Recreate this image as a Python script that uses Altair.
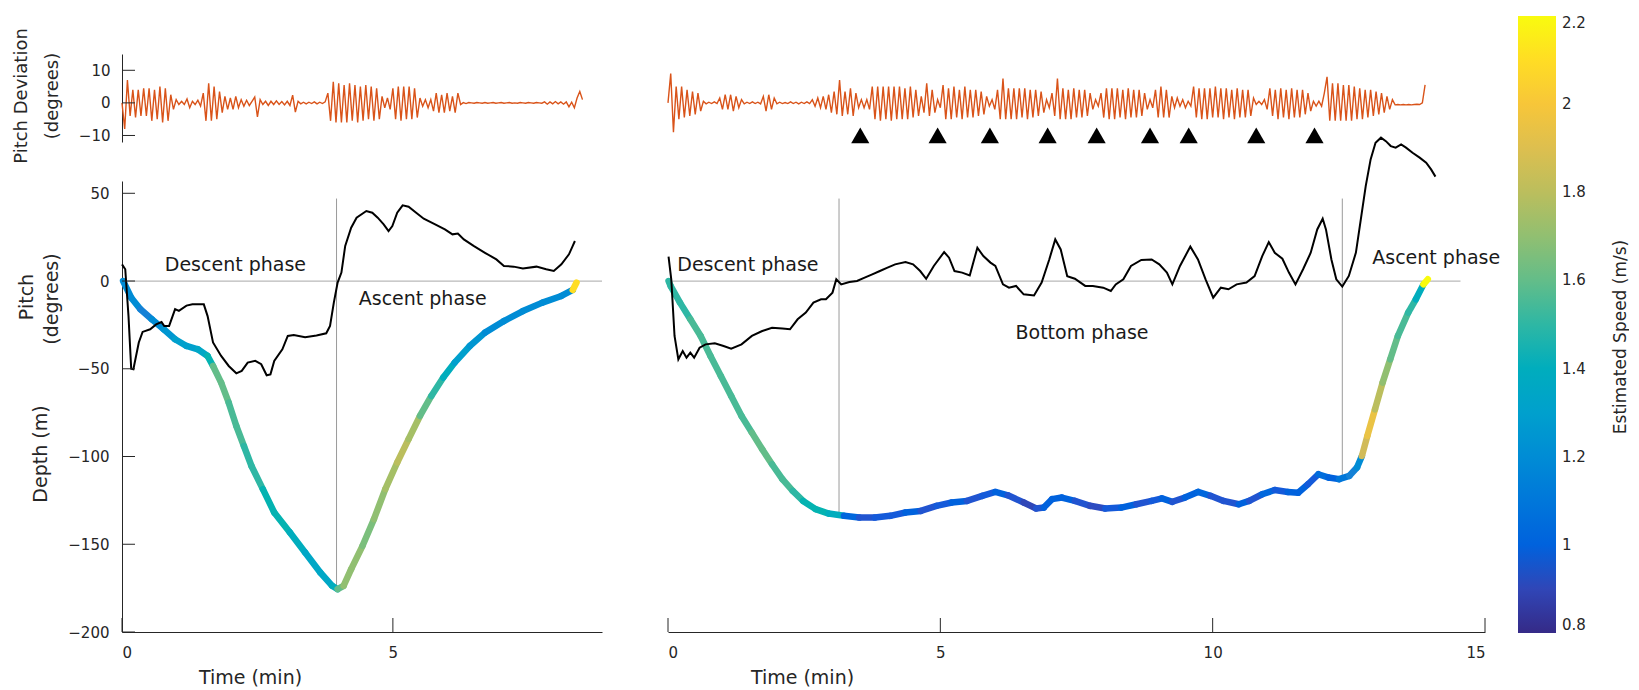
import altair as alt
import numpy as np
import pandas as pd

FONT = "DejaVu Sans"
AX = "#262626"
ORANGE = "#d95319"
PARULA = ["#352a87", "#0f5cdd", "#1481d6", "#06a4ca", "#2eb7a4",
          "#87bf77", "#d1bb59", "#fec832", "#f9fb0e"]

# ---------------- data ----------------
# Left dive: pitch (deg) vs time (min)
LEFT_PITCH_T = [0.00, 0.06, 0.12, 0.17, 0.21, 0.31, 0.38, 0.52, 0.63, 0.73, 0.78, 0.87, 0.98, 1.05,
                1.19, 1.30, 1.51, 1.58, 1.68, 1.83, 1.97, 2.11, 2.21, 2.32, 2.46, 2.57, 2.67, 2.74,
                2.81, 2.96, 3.06, 3.17, 3.38, 3.59, 3.77, 3.84, 3.91, 3.98, 4.05, 4.12, 4.23, 4.33,
                4.51, 4.62, 4.72, 4.83, 4.92, 4.99, 5.08, 5.18, 5.29, 5.43, 5.57, 5.78, 5.96, 6.10,
                6.20, 6.31, 6.49, 6.70, 6.91, 7.05, 7.23, 7.40, 7.65, 7.83, 7.97, 8.11, 8.25, 8.32, 8.36]
LEFT_PITCH_V = [9.5, 6.7, -20, -50, -50.3, -35, -29, -27.5, -24.7, -23.4, -25.6, -25.6, -16, -17,
                -14, -13.3, -13.3, -20, -35, -42.7, -48.4, -52.6, -51.2, -46.5, -45.5, -47.4, -53.7, -53.2,
                -45.5, -38.9, -31.3, -30.7, -32, -31, -29.8, -25.6, -12.3, -0.9, 4.8, 20, 30.4, 36.1,
                39.9, 38.9, 36.1, 32.3, 28.5, 31.3, 38.9, 43.1, 42.3, 38.9, 35.5, 32.3, 29.4, 26.6,
                27.1, 23.7, 20, 16.1, 12.3, 8.6, 8.2, 7.2, 8.2, 6.7, 5.7, 9.5, 15.2, 20, 22.8]

# Left dive: depth (m) and estimated speed (m/s)
LEFT_DEPTH_T = [0.02, 0.17, 0.34, 0.55, 0.77, 0.98, 1.19, 1.40, 1.58, 1.68, 1.83, 1.97, 2.11, 2.25,
                2.39, 2.60, 2.81, 3.10, 3.38, 3.66, 3.88, 3.98, 4.09, 4.23, 4.44, 4.65, 4.86, 5.08,
                5.29, 5.50, 5.71, 5.93, 6.14, 6.42, 6.70, 7.05, 7.40, 7.76, 8.11, 8.32, 8.39]
LEFT_DEPTH_V = [0, -9.5, -16.1, -21.8, -27.5, -33.2, -37, -38.9, -42.7, -48.4, -57.9, -69.3, -82.6, -94,
                -105.4, -118.6, -131.9, -143.3, -154.7, -166.1, -173.7, -175.6, -173.7, -164.2, -150.9,
                -135.7, -118.6, -103.4, -90.1, -76.9, -65.5, -55, -46.5, -37, -29.4, -22.8, -17.1,
                -12.3, -8.5, -5.1, -0.9]
LEFT_SPEED = [1.2, 1.2, 1.15, 1.2, 1.25, 1.3, 1.3, 1.35, 1.45, 1.6, 1.6, 1.55, 1.55, 1.5,
              1.5, 1.45, 1.45, 1.4, 1.35, 1.35, 1.4, 1.6, 1.7, 1.7, 1.65, 1.7, 1.75, 1.8,
              1.75, 1.6, 1.5, 1.4, 1.3, 1.25, 1.2, 1.2, 1.2, 1.2, 1.2, 2.1, 2.2]

# Right dive: pitch (deg)
RIGHT_PITCH_T = [0.01, 0.06, 0.12, 0.19, 0.27, 0.34, 0.41, 0.48, 0.58, 0.69,
                 0.86, 1.02, 1.16, 1.35, 1.54, 1.73, 1.91, 2.10, 2.24, 2.38,
                 2.53, 2.67, 2.81, 2.90, 3.02, 3.09, 3.18, 3.33, 3.47, 3.61,
                 3.75, 3.89, 4.03, 4.17, 4.36, 4.50, 4.63, 4.74, 4.88, 5.07,
                 5.16, 5.26, 5.40, 5.54, 5.68, 5.79, 5.92, 6.01, 6.15, 6.26,
                 6.39, 6.53, 6.72, 6.86, 7.00, 7.11, 7.21, 7.33, 7.47, 7.66,
                 7.80, 7.99, 8.13, 8.22, 8.36, 8.50, 8.69, 8.88, 9.02, 9.16,
                 9.26, 9.40, 9.59, 9.73, 9.87, 10.01, 10.15, 10.29, 10.44, 10.62,
                 10.77, 10.91, 11.03, 11.14, 11.28, 11.40, 11.52, 11.66, 11.80, 11.92,
                 12.02, 12.08, 12.18, 12.27, 12.38, 12.50, 12.63, 12.72, 12.81, 12.90,
                 12.99, 13.09, 13.18, 13.27, 13.36, 13.46, 13.55, 13.67, 13.80, 13.92,
                 14.01, 14.09]
RIGHT_PITCH_V = [13.9, 1, -31.3, -44.6, -39.9, -43.7, -40.8, -43.7, -38, -36.1,
                 -35.5, -37, -38.5, -36.1, -31.3, -28.5, -26.6, -27.1, -27.5, -21.8,
                 -18, -12.3, -10.4, -10.4, -6.6, 1, -1.9, -0.6, 0, 1.9,
                 3.8, 5.7, 7.6, 9.5, 10.8, 9.5, 5.7, 1.3, 8.6, 16.5,
                 13.3, 5.7, 4.8, 3.2, 19, 14.2, 10.5, 8.6, -1.9, -3.8,
                 -2.8, -7.6, -8.2, -0.9, 12.3, 23.7, 18, 2.8, 1.3, -2.8,
                 -2.8, -3.8, -5.7, -1.9, 1, 8.6, 12, 12.3, 9.5, 4.8,
                 -1.9, 8.6, 19.6, 12.3, 1, -9.5, -3.8, -4.7, -1.9, -0.9,
                 2.8, 14.2, 22.2, 16.1, 12.7, 4.8, -1.9, 6.7, 16.1, 29.4,
                 35.5, 29.4, 12.3, 1, -3.2, 2.9, 16.2, 35.1, 54.1, 69.3,
                 78.8, 81.7, 79.7, 76.9, 76, 77.8, 76, 73.1, 70.3, 67.4,
                 63.6, 59.5]

# Right dive: depth (m) and estimated speed (m/s)
RIGHT_DEPTH_T = [0.01, 0.05, 0.22, 0.41, 0.60, 0.78, 0.97, 1.16, 1.35, 1.54, 1.73, 1.91, 2.10, 2.29,
                 2.48, 2.71, 2.95, 3.23, 3.51, 3.80, 4.08, 4.36, 4.64, 4.93, 5.21, 5.49, 5.77,
                 6.01, 6.24, 6.53, 6.76, 6.90, 7.05, 7.23, 7.47, 7.75, 8.03, 8.32, 8.60, 8.88,
                 9.07, 9.26, 9.49, 9.73, 9.96, 10.20, 10.48, 10.67, 10.91, 11.14, 11.38, 11.57,
                 11.75, 11.94, 12.13, 12.32, 12.51, 12.65, 12.74, 12.84, 12.98, 13.12, 13.26,
                 13.40, 13.59, 13.73, 13.87, 13.95]
RIGHT_DEPTH_V = [0, -2.9, -12.3, -21.8, -31.3, -42.7, -54.1, -65.5, -76.9, -86.4, -95.9, -104.4, -112.9,
                 -119.6, -125.3, -130, -132.5, -133.8, -134.8, -134.8, -133.8, -131.9, -131, -128.1,
                 -126.2, -125.3, -122.4, -120.2, -122.1, -126.2, -129.6, -129.1, -124.3, -123.4,
                 -125.3, -128.1, -129.6, -129.1, -127.2, -125.3, -123.9, -125.8, -123.4, -120.2,
                 -122.4, -125.3, -127.2, -125.3, -121.5, -119.1, -120.2, -120.6, -115.8, -110.1,
                 -112, -112.9, -111, -106.3, -99.7, -88.3, -73.1, -57.9, -44.6, -31.3, -18, -10.4,
                 -1.9, 1.0]
RIGHT_SPEED = [1.5, 1.5, 1.5, 1.55, 1.55, 1.55, 1.55, 1.55, 1.55, 1.6, 1.6, 1.55, 1.55, 1.5,
               1.45, 1.45, 1.4, 1.02, 0.95, 0.97, 0.97, 1.0, 0.95, 0.97, 1.0, 0.95, 0.97,
               1.0, 0.95, 0.9, 0.95, 1.0, 1.0, 1.0, 0.95, 0.92, 0.97, 1.0, 0.95, 0.97,
               1.0, 0.95, 1.0, 1.02, 0.95, 0.95, 1.0, 0.95, 1.02, 0.97, 1.0, 1.0,
               0.97, 1.05, 1.0, 1.1, 1.15, 1.2, 1.85, 1.95, 1.8, 1.7, 1.6,
               1.55, 1.5, 1.4, 2.2, 2.2]

# Pitch deviation (deg), sampled every DEV_DT minutes
DEV_DT = 0.05
DEV_L = [
    0, -8, 7, -4, 4, -4.5, 4, -4, 4.5, -4,
    4.5, -5.5, 4, -5, 5, -6, 4.5, -5.5, 2.5, -2,
    1, -0.5, 0.5, -0.5, 1.2, -1.5, 0.5, -0.5, 0.8, -1,
    3, -5.5, 6, -5.5, 5, -5, 3.5, -3, 2, -2,
    1.5, -2, 2, -1.5, 1, -1, 0.8, -0.8, 0.5, 1.8,
    -4.3, 1, -0.5, 0.5, -0.8, 0.5, -0.5, 0.6, -0.5, 0.4,
    -0.6, 0.5, -0.8, 2.4, -2.8, 0.5, -0.3, 0.2, -0.3, 0.2,
    -0.2, 0.3, -0.3, 0.2, -0.2, 0.3, 3, -5.5, 6.5, -6,
    6, -6, 5.5, -6, 6, -5.5, 5.5, -6, 5, -5.5,
    5.5, -5, 5, -5.5, 4.5, -5, 2, -1.5, 1.5, -2,
    4.5, -5, 5, -5.5, 5, -5, 5, -5, 4.5, -4.5,
    1.5, -1, 1, -1.5, 1, -2.5, 3, -3, 2.5, -3,
    3, -2.5, 2, -3, 3, -0.5, 0.1, -0.2, 0.1, 0,
    -0.1, 0.1, 0, -0.1, 0.1, -0.1, 0, 0.1, -0.1, 0,
    0.1, -0.1, 0, 0.1, -0.1, 0, -0.1, 0.1, 0, -0.1,
    0.1, 0, -0.1, 0.1, 0, -0.1, 0.3, -0.4, 0.3, -0.3,
    0.4, -0.3, 0.3, -0.4, 0.3, -1.2, 0.2, -1.5, 1.5, 3.5,
    1]
DEV_R = [
    0, 9, -9, 5, -5, 5, -4.5, 4, -4, 3.5,
    -3.5, 3, -2.5, 0.5, -0.3, 0.2, -0.2, 0.3, -0.2, 1.5,
    -2, 2.5, -2, 2.5, -2.5, 2, -1.5, 1, -0.3, 0.2,
    -0.2, 0.3, -0.2, 0.2, -0.3, 2, -2.5, 2.5, -2, 1.5,
    -0.3, 0.2, -0.2, 0.1, -0.2, 0.3, -0.2, 0.2, -0.3, 0.2,
    -0.2, 0.3, -0.2, 1, -1, 1.5, -1.5, 2, -2, 2.5,
    -3, 3.5, -3.5, 7, -4, 3.5, -3.5, 4.5, -4, 3,
    -1.5, 1, -1.5, 1, -2, 5, -5, 5, -5.5, 5,
    -5, 5, -5.5, 5, -5, 5, -5, 4.5, -5, 5,
    -4.5, 4, -4, 2, -3, 6, -4, 4, -3, 1,
    -1.5, 5.5, -5, 4.5, -5, 5, -4.5, 4, -5, 5,
    -4.5, 4, -4.5, 4, -4, 3.5, -3.5, 2, -1, 1,
    -2, 4, -5, 7.5, -5, 4.5, -5, 4.5, -5, 4.5,
    -4.5, 4.5, -5, 4, -4.5, 4, -4, 3.5, -3, 1,
    -1.5, 3, -4, 7.5, -5, 4.5, -5, 4, -5, 4.5,
    -4.5, 4, -4.5, 4, -4, 3, -2, 1, -1, 3,
    -4.5, 4.5, -5, 4.5, -5, 4.5, -4.5, 4, -5, 4.5,
    -4.5, 4, -4.5, 4, -4, 3, -2, 1, -1.5, 4,
    -4.5, 5, -4.5, 4, -4.5, 2, -1.5, 1.5, -1, 1,
    -1.5, 0.5, -1, 5, -4.5, 4.5, -5, 4.5, -5, 4.5,
    -4.5, 5, -4.5, 4.5, -5, 4.5, -4.5, 4, -5, 4.5,
    -4.5, 4, -4.5, 4, -4, 1.5, -0.5, 0.5, -0.5, 1,
    -2, 4.5, -4, 4, -5, 4.5, -4.5, 4, -5, 4.5,
    -4.5, 4, -4.5, 4, -3.5, 3, -2.5, 0.5, -1, 0.5,
    -1, 3, 8, -5.5, 6, -5.5, 6, -5.5, 5.5, -5.5,
    5.5, -5.5, 5, -5, 4.5, -5, 4, -4.5, 4, -4,
    3.5, -3.5, 3, -3, 2, -2, 1, -0.6, -0.5, -0.6,
    -0.5, -0.6, -0.5, -0.6, -0.5, -0.4, -0.5, 0, 5.5]

# Glide markers (min) and their level in the deviation panel
GLIDE_T = [3.53, 4.95, 5.91, 6.97, 7.87, 8.85, 9.56, 10.80, 11.87]
GLIDE_LEVEL = -10

# Phase boundaries: time, top of marker line, bottom (depth at boundary)
LEFT_PHASE_T = [3.96]
LEFT_PHASE_BOTTOM = [-175.6]
RIGHT_PHASE_T = [3.14, 12.38]
RIGHT_PHASE_BOTTOM = [-133.5, -111.5]
PHASE_TOP = 47

# Phase labels
LEFT_LABELS = ["Descent phase", "Ascent phase"]
LEFT_LABEL_T = [0.79, 4.37]
LEFT_LABEL_V = [9, -10.4]
RIGHT_LABELS = ["Descent phase", "Bottom phase", "Ascent phase"]
RIGHT_LABEL_T = [0.17, 6.38, 12.93]
RIGHT_LABEL_V = [9.1, -29.4, 13]

# Axis ticks / domains
Y_TICKS = [-200, -150, -100, -50, 0, 50]
DEV_TICKS = [-10, 0, 10]
X_TICKS_L = [0, 5]
X_TICKS_R = [0, 5, 10, 15]
SPEED_TICKS = [0.8, 1.0, 1.2, 1.4, 1.6, 1.8, 2.0, 2.2]
SPEED_TITLE = "Estimated Speed (m/s)"
X_DOM_L = [0, 8.86]
X_DOM_R = [0, 15]
Y_DOM = [-200, 57]
DEV_DOM = [-12, 15]
ZERO_END_L = 8.86
ZERO_END_R = 14.55

# ---------------- layout ----------------
W_L, W_R = 480, 817
H_TOP, H_MAIN = 88, 451

COLOR = alt.Color(
    "speed:Q",
    scale=alt.Scale(domain=[0.8, 2.2], range=PARULA),
    legend=alt.Legend(
        orient="none", legendX=1396, legendY=-38, direction="vertical",
        gradientLength=617, gradientThickness=38, gradientStrokeWidth=0,
        values=SPEED_TICKS, format="~g", labelFont=FONT, labelFontSize=15,
        labelColor=AX, labelOffset=6, labelOverlap=False, title=None, padding=0,
    ),
)


def text_layer(label, px, py, size=18, angle=270):
    return alt.Chart(pd.DataFrame({"label": [label]})).mark_text(
        angle=angle, align="center", baseline="middle", font=FONT, fontSize=size, color=AX
    ).encode(text="label:N", x=alt.value(px), y=alt.value(py))


def top_panel(dev, xdom, width, show_axis, glides=None):
    df = pd.DataFrame({"t": np.arange(len(dev)) * DEV_DT, "d": dev})
    xenc = alt.X("t:Q", scale=alt.Scale(domain=xdom, nice=False, zero=False), axis=None)
    yaxis = alt.Axis(values=DEV_TICKS, labelPadding=12, title=None) if show_axis else None
    yenc = alt.Y("d:Q", scale=alt.Scale(domain=DEV_DOM, nice=False, zero=False), axis=yaxis)
    layers = [alt.Chart(df).mark_line(color=ORANGE, strokeWidth=1.4, clip=False).encode(x=xenc, y=yenc)]
    if show_axis:
        layers.append(
            alt.Chart(pd.DataFrame({"d": DEV_TICKS})).mark_rule(color=AX, strokeWidth=1).encode(
                y=yenc, x=alt.value(0), x2=alt.value(13))
        )
        layers.append(text_layer("Pitch Deviation", -100, H_TOP / 2 - 2))
        layers.append(text_layer("(degrees)", -69, H_TOP / 2 - 2))
    if glides is not None:
        gdf = pd.DataFrame({"t": glides, "d": [GLIDE_LEVEL] * len(glides)})
        layers.append(
            alt.Chart(gdf).mark_point(shape="triangle-up", filled=True, color="black",
                                      size=330, opacity=1).encode(x=xenc, y=yenc)
        )
    return alt.layer(*layers).properties(width=width, height=H_TOP)


def main_panel(xdom, width, x_ticks, title_x, pitch_t, pitch_v, depth_t, depth_v, speed,
               phase_t, phase_bottom, zero_end, labels, label_t, label_v, show_y):
    xenc = alt.X("t:Q", scale=alt.Scale(domain=xdom, nice=False, zero=False),
                 axis=alt.Axis(values=x_ticks, title="Time (min)", titleX=title_x, titleY=45,
                               titleBaseline="middle", titleAlign="center", labelPadding=13,
                               format="d"))
    yaxis = alt.Axis(values=Y_TICKS, labelPadding=13, title=None) if show_y else None
    yenc = alt.Y("v:Q", scale=alt.Scale(domain=Y_DOM, nice=False, zero=False), axis=yaxis)

    zero_df = pd.DataFrame({"t": [0.0], "t2": [zero_end], "v": [0.0]})
    zero = alt.Chart(zero_df).mark_rule(color="#b9b9b9", strokeWidth=1.2).encode(
        x=xenc, x2="t2:Q", y=yenc)

    ph_df = pd.DataFrame({"t": phase_t, "v": [PHASE_TOP] * len(phase_t), "v2": phase_bottom})
    phase = alt.Chart(ph_df).mark_rule(color="#9a9a9a", strokeWidth=1).encode(
        x=xenc, y=yenc, y2="v2:Q")

    seg = pd.DataFrame({"t": depth_t[:-1], "v": depth_v[:-1],
                        "t2": depth_t[1:], "v2": depth_v[1:], "speed": speed[:-1]})
    depth = alt.Chart(seg).mark_rule(strokeWidth=6.5, strokeCap="round").encode(
        x=xenc, y=yenc, x2="t2:Q", y2="v2:Q", color=COLOR)

    pdf = pd.DataFrame({"t": pitch_t, "v": pitch_v})
    pitch = alt.Chart(pdf).mark_line(color="black", strokeWidth=2, clip=False).encode(
        x=xenc, y=yenc)

    ldf = pd.DataFrame({"t": label_t, "v": label_v, "label": labels})
    lab = alt.Chart(ldf).mark_text(align="left", baseline="middle", font=FONT, fontSize=19,
                                   color="#1a1a1a").encode(x=xenc, y=yenc, text="label:N")

    xt = alt.Chart(pd.DataFrame({"t": x_ticks})).mark_rule(color=AX, strokeWidth=1).encode(
        x=xenc, y=alt.value(H_MAIN), y2=alt.value(H_MAIN - 14))

    layers = [zero, phase, depth, pitch, lab, xt]
    if show_y:
        layers.append(
            alt.Chart(pd.DataFrame({"v": Y_TICKS})).mark_rule(color=AX, strokeWidth=1).encode(
                y=yenc, x=alt.value(0), x2=alt.value(13))
        )
        layers.append(text_layer("Pitch", -95, 116, size=19))
        layers.append(text_layer("(degrees)", -70, 118, size=19))
        layers.append(text_layer("Depth (m)", -81, 273, size=19))
    else:
        # colour-bar title, to the right of the gradient legend
        layers.append(text_layer(SPEED_TITLE, 953, 156, size=17))
    return alt.layer(*layers).properties(width=width, height=H_MAIN)


top_l = top_panel(DEV_L, X_DOM_L, W_L, True)
top_r = top_panel(DEV_R, X_DOM_R, W_R, False, glides=GLIDE_T)
main_l = main_panel(X_DOM_L, W_L, X_TICKS_L, 128, LEFT_PITCH_T, LEFT_PITCH_V, LEFT_DEPTH_T,
                    LEFT_DEPTH_V, LEFT_SPEED, LEFT_PHASE_T, LEFT_PHASE_BOTTOM, ZERO_END_L,
                    LEFT_LABELS, LEFT_LABEL_T, LEFT_LABEL_V, True)
main_r = main_panel(X_DOM_R, W_R, X_TICKS_R, 134, RIGHT_PITCH_T, RIGHT_PITCH_V, RIGHT_DEPTH_T,
                    RIGHT_DEPTH_V, RIGHT_SPEED, RIGHT_PHASE_T, RIGHT_PHASE_BOTTOM, ZERO_END_R,
                    RIGHT_LABELS, RIGHT_LABEL_T, RIGHT_LABEL_V, False)

chart = alt.concat(
    top_l, top_r, main_l, main_r,
    columns=2, spacing=alt.RowColnumber(row=39, column=66), bounds="flush",
).properties(
    padding={"left": 5, "top": 8, "right": 0, "bottom": 0}, background="white"
).configure_view(stroke=None).configure_axis(
    domainColor=AX, domainWidth=1, labelColor=AX, labelFont=FONT, labelFontSize=15,
    titleFont=FONT, titleFontSize=19, titleFontWeight="normal", titleColor=AX,
    grid=False, ticks=False, tickSize=0,
)

chart.save("out.html", embed_options={"renderer": "svg", "actions": False})
